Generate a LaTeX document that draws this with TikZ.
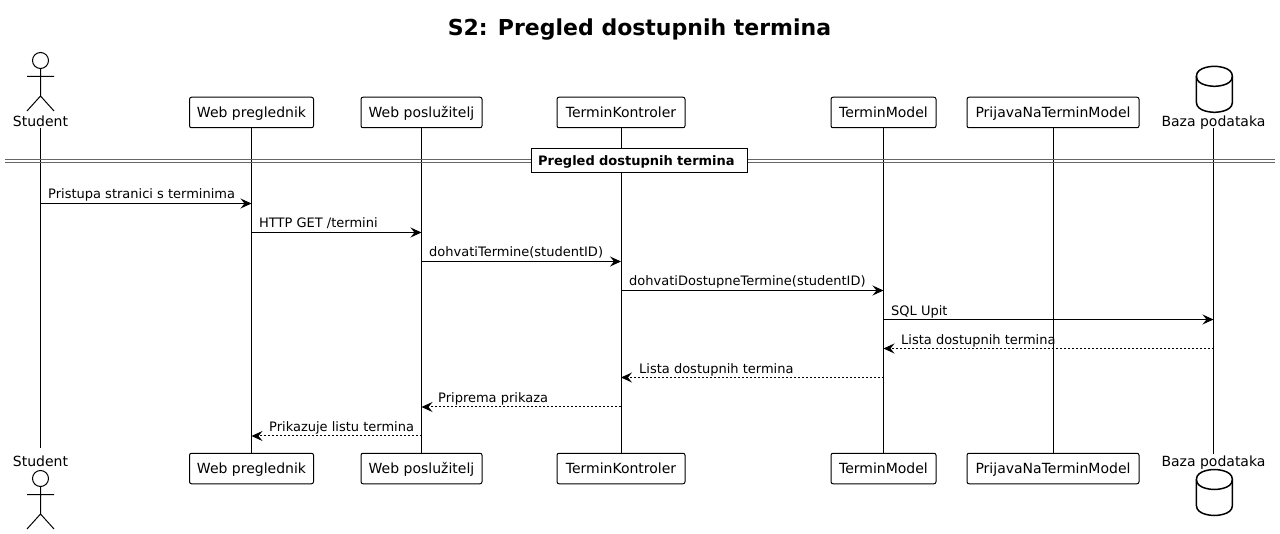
\documentclass[tikz,border=0pt]{standalone}
\usepackage{fontspec}
\setmainfont{DejaVu Sans}
\usetikzlibrary{arrows.meta}

\tikzset{
  every node/.style={font=\fontsize{14}{16}\selectfont,text=black},
  partbox/.style={draw,fill=white,rounded corners=2pt,line width=1pt,minimum height=30.5pt,inner xsep=0pt,inner ysep=0pt,text height=10pt,text depth=0pt},
  partname/.style={anchor=base,inner sep=0pt},
  lifeline/.style={line width=1pt},
  msg/.style={line width=1pt,-{Stealth[length=11pt,width=10pt,inset=4pt]}},
  reply/.style={msg,dash pattern=on 2pt off 2pt},
  msglab/.style={anchor=base west,inner sep=0pt,font=\fontsize{13}{15}\selectfont},
  sepline/.style={line width=1pt,gray!80!black},
  stickman/.pic={
    \draw[line width=1pt] (0,0) circle (8pt);
    \draw[line width=1pt] (0,8)--(0,35.5) (-13.5,16)--(13.5,16) (-13.5,50.5)--(0,35.5)--(13.5,50.5);
  },
  dbcan/.pic={
    \draw[line width=1.5pt,fill=white] (-18,10) .. controls (-18,0) and (0,0) .. (0,0)
      .. controls (0,0) and (18,0) .. (18,10) -- (18,36)
      .. controls (18,46) and (0,46) .. (0,46) .. controls (0,46) and (-18,46) .. (-18,36) -- cycle;
    \draw[line width=1.5pt] (-18,10) .. controls (-18,20) and (0,20) .. (0,20)
      .. controls (0,20) and (18,20) .. (18,10);
  }
}

\begin{document}
\begin{tikzpicture}[x=1pt,y=-1pt]
  \useasboundingbox (0,0) rectangle (1280,534);

  \node[font=\bfseries\fontsize{22}{26}\selectfont] (title) at (639.5,29.5) {S2: Pregled dostupnih termina};

  % top row
  \pic at (40.5,60.5) {stickman};
  \node[partname] (stu) at (40.5,126.7) {Student};
  \node[partbox,minimum width=124pt] (web) at (251.5,112.5) {Web preglednik};
  \node[partbox,minimum width=121pt] (srv) at (421.5,112.5) {Web poslužitelj};
  \node[partbox,minimum width=128pt] (ctl) at (621,112.5) {TerminKontroler};
  \node[partbox,minimum width=105pt] (mdl) at (883.5,112.5) {TerminModel};
  \node[partbox,minimum width=172pt] (prj) at (1053,112.5) {PrijavaNaTerminModel};
  \pic at (1214.4,66.3) {dbcan};
  \node[partname] (db) at (1213.5,126.7) {Baza podataka};

  % bottom row
  \node[partname] (stub) at (40.5,466) {Student};
  \pic at (40.5,478.5) {stickman};
  \node[partbox,minimum width=124pt] (webb) at (251.5,468.5) {Web preglednik};
  \node[partbox,minimum width=121pt] (srvb) at (421.5,468.5) {Web poslužitelj};
  \node[partbox,minimum width=128pt] (ctlb) at (621,468.5) {TerminKontroler};
  \node[partbox,minimum width=105pt] (mdlb) at (883.5,468.5) {TerminModel};
  \node[partbox,minimum width=172pt] (prjb) at (1053,468.5) {PrijavaNaTerminModel};
  \node[partname] (dbb) at (1213.5,466) {Baza podataka};
  \pic at (1214.4,469.5) {dbcan};

  % lifelines
  \coordinate (stutop) at (40.5,128);
  \coordinate (stuend) at (40.5,448);
  \coordinate (dbtop) at (1213.5,128);
  \coordinate (dbend) at (1213.5,454);
  \draw[lifeline] (stutop)--(stuend);
  \draw[lifeline] (web.south)--(webb.north);
  \draw[lifeline] (srv.south)--(srvb.north);
  \draw[lifeline] (ctl.south)--(ctlb.north);
  \draw[lifeline] (mdl.south)--(mdlb.north);
  \draw[lifeline] (prj.south)--(prjb.north);
  \draw[lifeline] (dbtop)--(dbend);

  % divider
  \coordinate (sepl) at (5,159.5);
  \coordinate (sepr) at (1275,159.5);
  \draw[sepline] (sepl)--(sepr);
  \draw[sepline] ([yshift=-2.7pt]sepl)--([yshift=-2.7pt]sepr);
  \node[draw,fill=white,line width=1pt,text width=203pt,align=left,minimum height=24pt,inner xsep=6.5pt,inner ysep=0pt,
        text depth=0pt,font=\bfseries\fontsize{13}{15}\selectfont] (sec) at (639.7,160.3) {Pregled dostupnih termina};

  % messages
  \coordinate (m1) at (0,203.5);
  \coordinate (m2) at (0,232.5);
  \coordinate (m3) at (0,261.5);
  \coordinate (m4) at (0,290.5);
  \coordinate (m5) at (0,319.5);
  \coordinate (m6) at (0,348.5);
  \coordinate (m7) at (0,377.5);
  \coordinate (m8) at (0,407);
  \coordinate (m9) at (0,436);

  \draw[msg] (stu |- m1)--(web |- m1);
  \draw[msg] (web |- m2)--(srv |- m2);
  \draw[msg] (srv |- m3)--(ctl |- m3);
  \draw[msg] (ctl |- m4)--(mdl |- m4);
  \draw[msg] (mdl |- m5)--(db |- m5);
  \draw[reply] (db |- m6)--(mdl |- m6);
  \draw[reply] (mdl |- m7)--(ctl |- m7);
  \draw[reply] (ctl |- m8)--(srv |- m8);
  \draw[reply] (srv |- m9)--(web |- m9);

  \node[msglab] (t1) at (48,198.8) {Pristupa stranici s terminima};
  \node[msglab] (t2) at (259,227.8) {HTTP GET /termini};
  \node[msglab] (t3) at (429,256.8) {dohvatiTermine(studentID)};
  \node[msglab] (t4) at (629,285.8) {dohvatiDostupneTermine(studentID)};
  \node[msglab] (t5) at (891,316) {SQL Upit};
  \node[msglab] (t6) at (901,345) {Lista dostupnih termina};
  \node[msglab] (t7) at (639,373.8) {Lista dostupnih termina};
  \node[msglab] (t8) at (438,402.8) {Priprema prikaza};
  \node[msglab] (t9) at (269,431.8) {Prikazuje listu termina};
\end{tikzpicture}
\end{document}
